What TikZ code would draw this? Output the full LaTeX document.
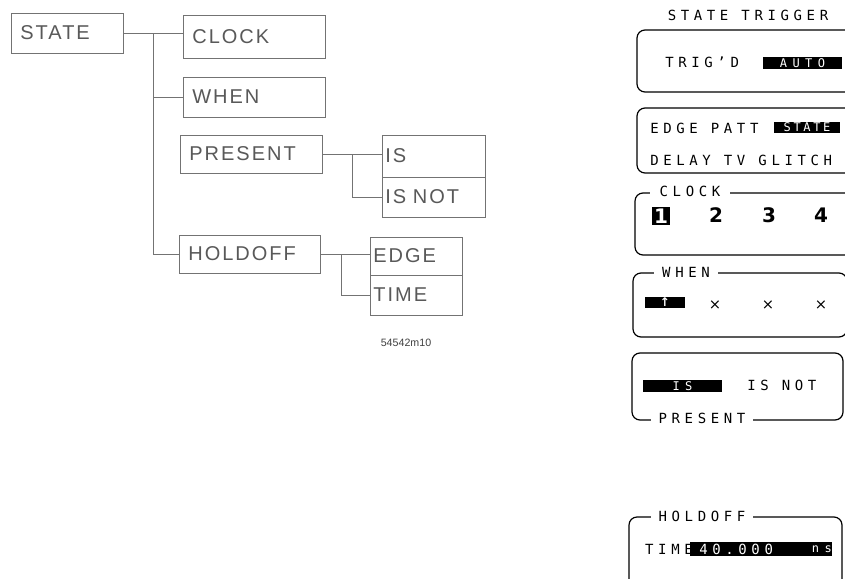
\documentclass[tikz,border=0pt]{standalone}
\usepackage{fontspec}
\newfontfamily\treefont[LetterSpace=10]{Liberation Sans}
\newfontfamily\labfont{Liberation Sans}
\newfontfamily\lcdfont[LetterSpace=33]{DejaVu Sans Mono}
\newfontfamily\invfont[LetterSpace=45]{DejaVu Sans Mono}
\newfontfamily\invtight[LetterSpace=22]{DejaVu Sans Mono}
\newfontfamily\digfont{DejaVu Sans}
\begin{document}
\begin{tikzpicture}[x=0.75pt,y=-0.75pt,
  tbox/.style={draw=black!55, line width=0.7pt, inner xsep=7pt, inner ysep=0pt, align=left,
    font=\treefont\fontsize{15}{18}\selectfont, text=black!65},
  sbox/.style={tbox, inner xsep=2.5pt},
  conn/.style={draw=black!55, line width=0.7pt},
  panel/.style={draw=black, line width=0.9pt, rounded corners=6pt},
  lcd/.style={font=\lcdfont\fontsize{10.5}{12}\selectfont, inner sep=0pt},
  inv/.style={fill=black, text=white, inner sep=0pt, font=\invfont\fontsize{9}{10}\selectfont},
  lab/.style={lcd, fill=white, inner xsep=7pt, inner ysep=2pt},
  digit/.style={font=\digfont\bfseries\fontsize{15}{16}\selectfont, inner sep=0pt},
  cross/.style={font=\digfont\fontsize{11}{12}\selectfont, inner sep=0pt}]
\useasboundingbox (0,0) rectangle (845,578);
\fill[white] (0,0) rectangle (845,578);

% ---------- menu tree ----------
\node[tbox, text width=70pt, minimum height=30pt] (state) at (67,33) {STATE};
\node[tbox, text width=92.5pt, minimum height=32.25pt] (clock) at (254,36.5) {CLOCK};
\node[tbox, text width=92.5pt, minimum height=30pt] (when) at (254,97) {WHEN};
\node[tbox, text width=92.5pt, minimum height=28.5pt] (present) at (251,154) {PRESENT};
\node[sbox, text width=72.25pt, minimum height=31.5pt] (is) at (433.5,156) {IS};
\node[sbox, text width=72.25pt, minimum height=30pt] (isnot) at (433.5,197) {IS NOT};
\node[tbox, text width=91.75pt, minimum height=28.5pt] (holdoff) at (249.5,254) {HOLDOFF};
\node[sbox, text width=64pt, minimum height=28.5pt] (edge) at (416,256) {EDGE};
\node[sbox, text width=64pt, minimum height=30pt] (time) at (416,295) {TIME};

\coordinate (tr) at (153,0);
\coordinate (pr) at (352,0);
\coordinate (hr) at (341,0);
\draw[conn] (state.east) -- (state.east -| clock.west);
\draw[conn] (state.east -| tr) |- (when.west);
\draw[conn] (state.east -| tr) |- (holdoff.west);
\draw[conn] (present.east) -- (present.east -| is.west);
\draw[conn] (present.east -| pr) |- (isnot.west);
\draw[conn] (holdoff.east) -- (holdoff.east -| edge.west);
\draw[conn] (holdoff.east -| hr) |- (time.west);

\node[font=\labfont\fontsize{8}{10}\selectfont, text=black!75] (fig) at (406,343) {54542m10};

% ---------- instrument screen ----------
\begin{scope}
\clip (0,0) rectangle (845,578);
\draw[panel] (637,30) rectangle (855,92);
\draw[panel] (637,108) rectangle (855,173);
\draw[panel] (635,193) rectangle (855,255);
\draw[panel] (633,273) rectangle (847,337);
\draw[panel] (632,353) rectangle (843,420);
\draw[panel] (629,517) rectangle (842,600);
\end{scope}

\node[lcd] (title) at (748,15) {STATE TRIGGER};

\node[lcd, anchor=west] (trigd) at (665,62) {TRIG’D};
\node[inv, minimum width=59.25pt, minimum height=9pt] (auto) at (802.5,63) {AUTO};

\node[lcd, anchor=west] (edgepatt) at (650,128) {EDGE PATT};
\node[inv, font=\invtight\fontsize{9}{10}\selectfont, minimum width=49pt, minimum height=8.5pt] (stinv) at (807,127.5) {STATE};
\node[lcd, anchor=west] (delay) at (650,160) {DELAY TV GLITCH};

\node[lab] (clklab) at (690,191) {CLOCK};
\node[digit, fill=black, text=white, minimum width=13.5pt, minimum height=13.5pt] (c1) at (661,216) {1};
\node[digit] (c2) at (716,215) {2};
\node[digit] (c3) at (769,215) {3};
\node[digit] (c4) at (821,215) {4};

\node[lab, inner xsep=6pt] (whenlab) at (686,272) {WHEN};
\node[inv, font=\digfont\bfseries\fontsize{9}{10}\selectfont, minimum width=30pt, minimum height=8.5pt] (arrow) at (665,302.5) {↑};
\node[cross] (x2) at (715,305) {×};
\node[cross] (x3) at (768,305) {×};
\node[cross] (x4) at (821,305) {×};

\node[inv, minimum width=59.25pt, minimum height=8.5pt] (isinv) at (682.5,386) {IS};
\node[lcd, anchor=west] (isnotlcd) at (747,385) {IS NOT};
\node[lab, inner xsep=6pt] (preslab) at (702,418) {PRESENT};

\node[lab, inner xsep=6pt] (holdlab) at (702,516) {HOLDOFF};
\node[lcd, anchor=east] (timelcd) at (693,549) {TIME};
\node[fill=black, inner sep=0pt, minimum width=106.5pt, minimum height=10.5pt] (hinv) at (761,549) {};
\node[lcd, text=white, anchor=west] (val) at (699,549) {40.000};
\node[text=white, anchor=east, inner sep=0pt, font=\invfont\fontsize{9}{10}\selectfont] (ns) at (832,549.5) {ns};
\end{tikzpicture}
\end{document}
